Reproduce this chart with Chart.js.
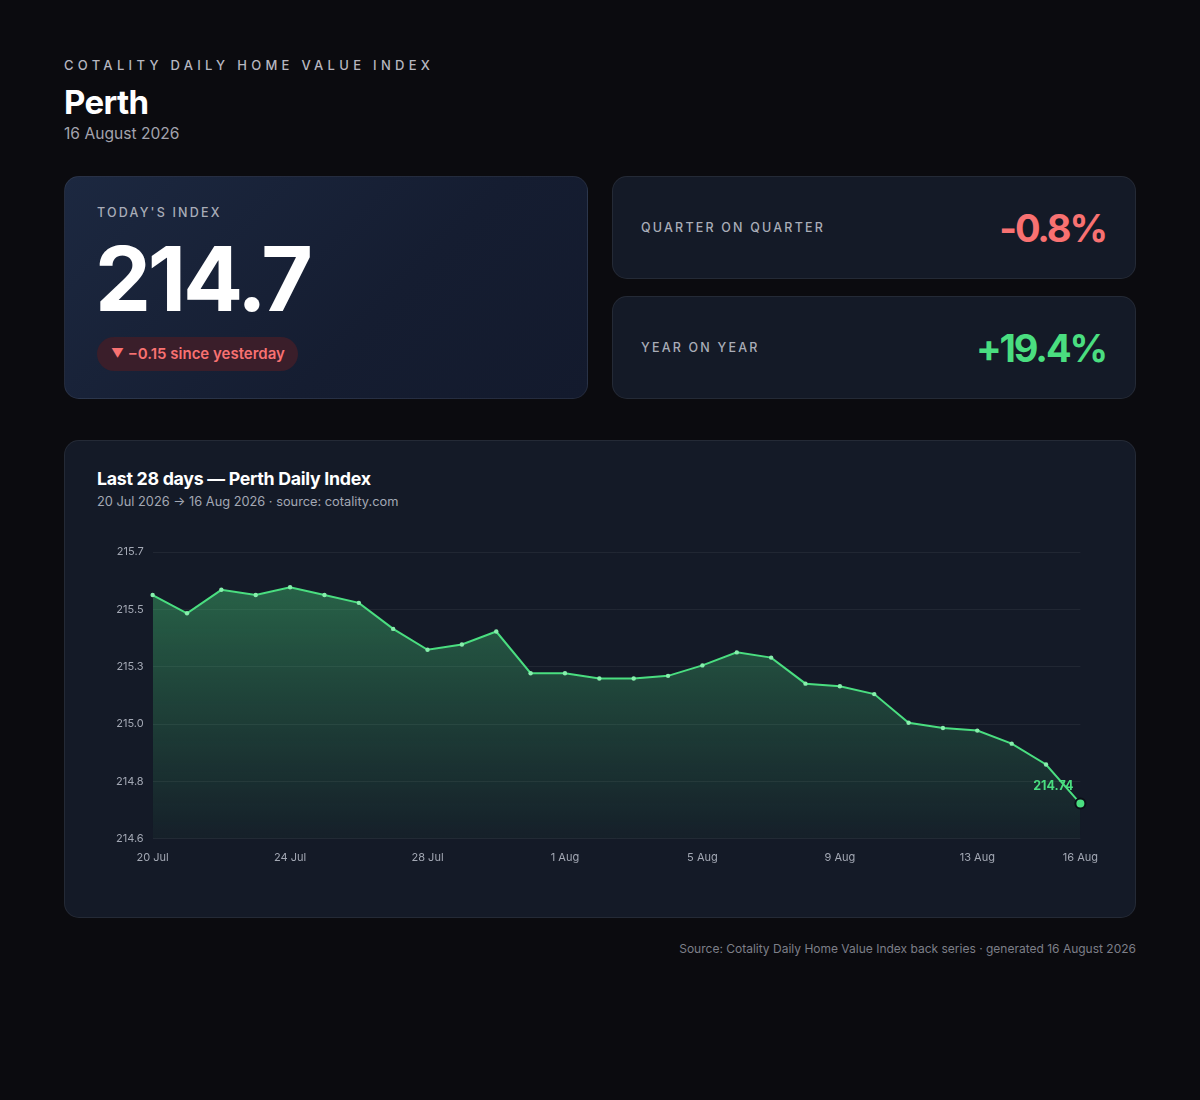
<!DOCTYPE html>
<html>
<head>
<meta charset="utf-8">
<script src="https://cdn.jsdelivr.net/npm/chart.js@4.4.1/dist/chart.umd.min.js"></script>
<style>
  html, body { margin:0; padding:0; }
  body { width:1200px; height:1100px; background:#0b0b0f; font-family: Inter, "Noto Sans", sans-serif; color:#fff; position:relative; overflow:hidden; }
  .abs { position:absolute; }
  .eyebrow { left:64px; top:57px; font-size:13px; line-height:16px; letter-spacing:4.3px; color:#b7b7c0; font-weight:500; }
  .city { left:64px; top:82px; font-size:33px; line-height:40px; font-weight:700; letter-spacing:-0.6px; color:#fff; }
  .date { left:64px; top:124px; font-size:15.6px; line-height:20px; color:#a3a3ad; }
  .card { border-radius:15px; border:1px solid rgba(255,255,255,0.07); box-sizing:border-box; }
  .today { left:64px; top:176px; width:524px; height:223px; background:linear-gradient(135deg,#1c2840 0%,#151d31 60%,#131a2d 100%); }
  .lbl { font-size:12.5px; letter-spacing:2.2px; color:#a9adb8; font-weight:500; }
  .today .lbl { position:absolute; left:32px; top:28px; }
  .big { position:absolute; left:30px; top:52px; font-size:89px; line-height:100px; font-weight:700; letter-spacing:-3.2px; color:#fff; }
  .pill { position:absolute; left:32px; top:160px; height:34px; padding:0 13px 0 14px; border-radius:17px; background:#3a1e2a; color:#f87171; font-size:15px; font-weight:600; line-height:34px; }
  .pill .tri { font-size:12.5px; position:relative; top:-1px; }
  .stat { left:612px; width:524px; height:103px; background:#141a27; display:flex; align-items:center; justify-content:space-between; padding:0 29px 0 28px; }
  .stat .val { font-size:38px; font-weight:700; letter-spacing:-2.1px; }
  .neg { color:#f87171; } .pos { color:#4ade80; }
  .chartcard { left:64px; top:440px; width:1072px; height:478px; background:#141a27; }
  .ctitle { position:absolute; left:32px; top:27px; font-size:17.8px; line-height:22px; font-weight:700; color:#fff; letter-spacing:-0.3px; }
  .csub { position:absolute; left:32px; top:53px; font-size:12.8px; line-height:16px; color:#a3a8b4; }
  .cwrap { position:absolute; left:33px; top:94px; width:1012px; height:341px; }
  .footer { right:64px; top:941px; font-size:12px; line-height:16px; color:#7d7f88; }
</style>
</head>
<body>
<div class="abs eyebrow">COTALITY DAILY HOME VALUE INDEX</div>
<div class="abs city">Perth</div>
<div class="abs date">16 August 2026</div>

<div class="abs card today">
  <div class="lbl">TODAY'S INDEX</div>
  <div class="big">214.7</div>
  <div class="pill"><span class="tri">▼</span> −0.15 since yesterday</div>
</div>
<div class="abs card stat" style="top:176px;">
  <div class="lbl">QUARTER ON QUARTER</div>
  <div class="val neg">-0.8%</div>
</div>
<div class="abs card stat" style="top:296px;">
  <div class="lbl">YEAR ON YEAR</div>
  <div class="val pos">+19.4%</div>
</div>

<div class="abs card chartcard">
  <div class="ctitle">Last 28 days — Perth Daily Index</div>
  <div class="csub">20 Jul 2026 → 16 Aug 2026 · source: cotality.com</div>
  <div class="cwrap"><canvas id="c"></canvas></div>
</div>

<div class="abs footer">Source: Cotality Daily Home Value Index back series · generated 16 August 2026</div>

<script>
const dates = ["20 Jul","21 Jul","22 Jul","23 Jul","24 Jul","25 Jul","26 Jul","27 Jul","28 Jul","29 Jul","30 Jul","31 Jul",
  "1 Aug","2 Aug","3 Aug","4 Aug","5 Aug","6 Aug","7 Aug","8 Aug","9 Aug","10 Aug","11 Aug","12 Aug","13 Aug","14 Aug","15 Aug","16 Aug"];
const indexValues = [215.54,215.47,215.56,215.54,215.57,215.54,215.51,215.41,215.33,215.35,215.40,215.24,
  215.24,215.22,215.22,215.23,215.27,215.32,215.30,215.20,215.19,215.16,215.05,215.03,215.02,214.97,214.89,214.74];
const yMin = 214.605, yMax = 215.705;
const tickCount = 6;
const lastLabel = "214.74";

const lastIdx = indexValues.length - 1;

const lastLabelPlugin = {
  id: 'lastLabel',
  afterDatasetsDraw(chart) {
    const meta = chart.getDatasetMeta(0);
    const pt = meta.data[lastIdx];
    if (!pt) return;
    const ctx = chart.ctx;
    ctx.save();
    ctx.font = '700 12.5px Inter, "Noto Sans", sans-serif';
    ctx.fillStyle = '#4ade80';
    ctx.textAlign = 'right';
    ctx.textBaseline = 'middle';
    ctx.fillText(lastLabel, pt.x - 7, pt.y - 17);
    ctx.restore();
  }
};

const ctx = document.getElementById('c').getContext('2d');
new Chart(ctx, {
  type: 'line',
  data: {
    labels: dates,
    datasets: [{
      data: indexValues,
      borderColor: '#4ade80',
      borderWidth: 2,
      tension: 0,
      fill: 'start',
      backgroundColor: (context) => {
        const c = context.chart;
        const area = c.chartArea;
        if (!area) return 'rgba(74,222,128,0.2)';
        const g = c.ctx.createLinearGradient(0, area.top, 0, area.bottom);
        g.addColorStop(0, 'rgba(74,222,128,0.42)');
        g.addColorStop(0.45, 'rgba(74,222,128,0.23)');
        g.addColorStop(1, 'rgba(74,222,128,0.03)');
        return g;
      },
      pointRadius: (c) => c.dataIndex === lastIdx ? 5 : 2.2,
      pointBackgroundColor: (c) => c.dataIndex === lastIdx ? '#4ade80' : '#86efac',
      pointBorderColor: (c) => c.dataIndex === lastIdx ? '#0b0f17' : '#86efac',
      pointBorderWidth: (c) => c.dataIndex === lastIdx ? 2 : 0,
    }]
  },
  options: {
    responsive: true,
    maintainAspectRatio: false,
    animation: false,
    layout: { padding: { left: 9, right: 0, top: 17, bottom: 0 } },
    plugins: { legend: { display: false }, tooltip: { enabled: false } },
    scales: {
      x: {
        grid: { display: false, drawTicks: false },
        border: { display: false },
        ticks: {
          autoSkip: false,
          maxRotation: 0,
          padding: 12,
          color: '#a3a8b4',
          font: { size: 11, family: 'Inter' },
          callback: function(v, i) { return (i % 4 === 0 || i === lastIdx) ? dates[i] : ''; }
        }
      },
      y: {
        min: yMin,
        max: yMax,
        grid: { color: 'rgba(255,255,255,0.06)', drawTicks: false },
        border: { display: false },
        ticks: {
          count: tickCount,
          padding: 9,
          color: '#a3a8b4',
          font: { size: 11, family: 'Inter' },
          callback: (v) => Number(v).toFixed(1)
        }
      }
    }
  },
  plugins: [lastLabelPlugin]
});
</script>
</body>
</html>
